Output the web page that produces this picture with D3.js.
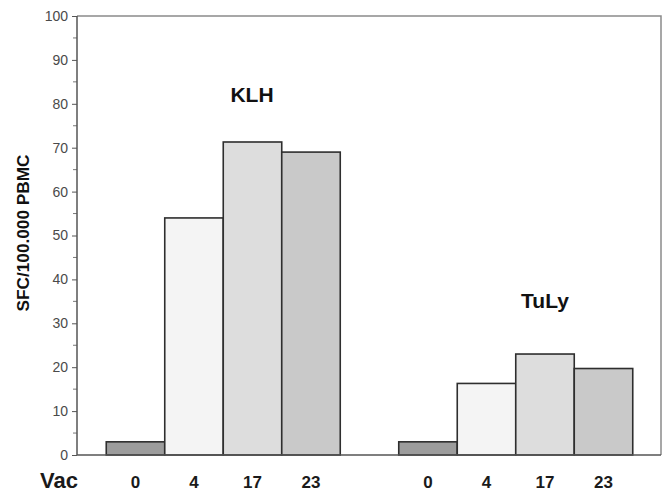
<!DOCTYPE html>
<html>
<head>
<meta charset="utf-8">
<script src="https://cdn.jsdelivr.net/npm/d3@7"></script>
<style>
  html, body { margin: 0; padding: 0; background: #fff; }
  svg { display: block; }
</style>
</head>
<body>
<svg id="chart" width="665" height="493"></svg>
<script>
// ---- data ----
const groups = ["KLH", "TuLy"];
const vaccinations = ["0", "4", "17", "23"];
const klhValues = [3, 54, 71.3, 69];
const tulyValues = [3, 16.3, 23, 19.7];
const yTicks = [0, 10, 20, 30, 40, 50, 60, 70, 80, 90, 100];
const yLabel = "SFC/100.000 PBMC";
const xLead = "Vac";
const barFills = ["#9c9c9c", "#f4f4f4", "#dddddd", "#c9c9c9"];

// ---- layout ----
const svg = d3.select("#chart");
const margin = { left: 77, right: 3, top: 16, bottom: 38 };
const W = 665, H = 493;
const x0 = margin.left, x1 = W - margin.right - 1;
const yTop = margin.top, yBot = H - margin.bottom;

const rows = [];
groups.forEach((g, gi) => {
  const vals = gi === 0 ? klhValues : tulyValues;
  vaccinations.forEach((v, i) => rows.push({ key: g + "-" + v, group: g, vac: v, idx: i, value: vals[i] }));
});
const slots = [...rows.slice(0, 4).map(d => d.key), "gap", ...rows.slice(4).map(d => d.key)];

const x = d3.scaleBand().domain(slots).range([x0, x1 + 1]).paddingInner(0).paddingOuter(0.5);
const y = d3.scaleLinear().domain([0, 100]).range([yBot, yTop]);

// frame (top and right)
svg.append("path")
  .attr("d", `M${x0},${yTop}H${x1}V${yBot}`)
  .attr("fill", "none").attr("stroke", "#8a8a8a").attr("stroke-width", 1.5);

// bars
svg.append("g").selectAll("rect").data(rows).join("rect")
  .attr("x", d => x(d.key))
  .attr("y", d => y(d.value))
  .attr("width", x.bandwidth())
  .attr("height", d => y(0) - y(d.value))
  .attr("fill", d => barFills[d.idx])
  .attr("stroke", "#2e2e2e")
  .attr("stroke-width", 1.6);

// y axis major
const yAxis = d3.axisLeft(y).tickValues(yTicks).tickSize(5).tickPadding(4);
const ga = svg.append("g").attr("transform", `translate(${x0},0)`).call(yAxis);
ga.select(".domain").remove();
ga.selectAll(".tick line").attr("stroke", "#555");
ga.selectAll(".tick text")
  .attr("fill", "#4a4a4a")
  .style("font-family", "Liberation Sans, Arial, sans-serif")
  .style("font-size", "14px");

// minor ticks
const minor = d3.range(5, 100, 10);
svg.append("g").selectAll("line").data(minor).join("line")
  .attr("x1", x0 - 4).attr("x2", x0)
  .attr("y1", d => y(d)).attr("y2", d => y(d))
  .attr("stroke", "#777").attr("stroke-width", 1);

// axis lines
svg.append("line").attr("x1", x0).attr("x2", x0).attr("y1", yTop).attr("y2", yBot)
  .attr("stroke", "#555").attr("stroke-width", 1.5);
svg.append("line").attr("x1", x0).attr("x2", x1).attr("y1", yBot).attr("y2", yBot)
  .attr("stroke", "#555").attr("stroke-width", 1.5);

// x labels
svg.append("g").selectAll("text").data(rows).join("text")
  .attr("x", d => x(d.key) + x.bandwidth() / 2)
  .attr("y", 488)
  .attr("text-anchor", "middle")
  .attr("fill", "#1a1a1a")
  .style("font-family", "Liberation Sans, Arial, sans-serif")
  .style("font-weight", "bold")
  .style("font-size", "17px")
  .text(d => d.vac);

svg.append("text")
  .attr("x", 59).attr("y", 488)
  .attr("text-anchor", "middle")
  .attr("fill", "#1a1a1a")
  .style("font-family", "Liberation Sans, Arial, sans-serif")
  .style("font-weight", "bold")
  .style("font-size", "22px")
  .text(xLead);

// group labels
svg.append("text")
  .attr("x", 252).attr("y", 102)
  .attr("text-anchor", "middle")
  .attr("fill", "#111")
  .style("font-family", "Liberation Sans, Arial, sans-serif")
  .style("font-weight", "bold")
  .style("font-size", "21px")
  .text(groups[0]);
svg.append("text")
  .attr("x", 545).attr("y", 308)
  .attr("text-anchor", "middle")
  .attr("fill", "#111")
  .style("font-family", "Liberation Sans, Arial, sans-serif")
  .style("font-weight", "bold")
  .style("font-size", "21px")
  .text(groups[1]);

// y label
svg.append("text")
  .attr("transform", `translate(29,233) rotate(-90)`)
  .attr("text-anchor", "middle")
  .attr("fill", "#111")
  .style("font-family", "Liberation Sans, Arial, sans-serif")
  .style("font-weight", "bold")
  .style("font-size", "16.5px")
  .attr("textLength", 157)
  .attr("lengthAdjust", "spacingAndGlyphs")
  .text(yLabel);
</script>
</body>
</html>
